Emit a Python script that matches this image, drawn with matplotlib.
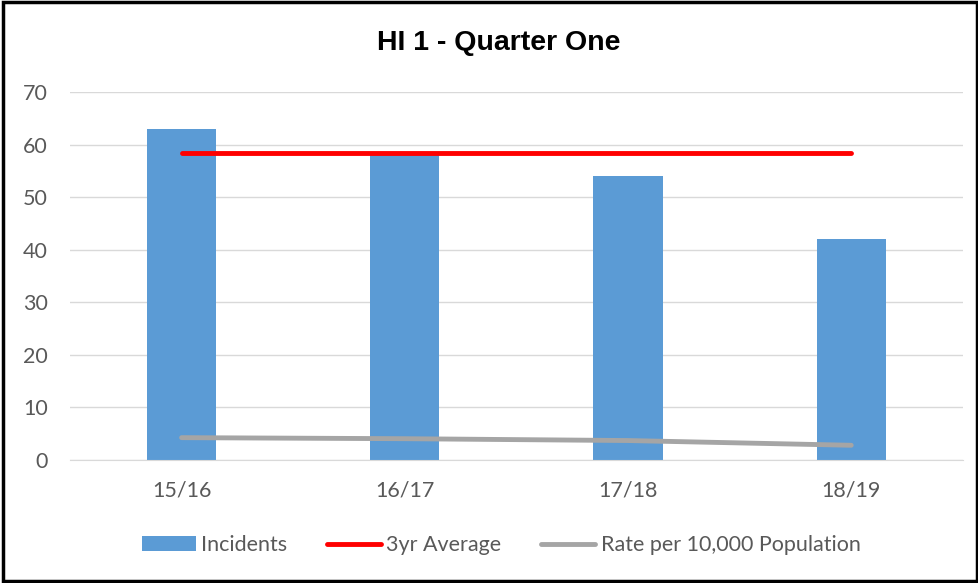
import matplotlib.pyplot as plt
from matplotlib.patches import Rectangle

categories = ['15/16', '16/17', '17/18', '18/19']
incidents = [63, 58, 54, 42]
avg_3yr = [58.5, 58.5, 58.5, 58.5]
rate_per_10k = [4.25, 4.05, 3.7, 2.8]

plt.rcParams['font.family'] = ['Lato', 'DejaVu Sans']

fig = plt.figure(figsize=(9.79, 5.83), dpi=100)
ax = fig.add_axes([0.0715, 0.211, 0.912, 0.631])

x = list(range(len(categories)))
bars = ax.bar(x, incidents, width=0.31, color='#5B9BD5', label='Incidents', zorder=2)
avg_line, = ax.plot(x, avg_3yr, color='#FF0000', linewidth=3.5, solid_capstyle='round',
                    label='3yr Average', zorder=3)
rate_line, = ax.plot(x, rate_per_10k, color='#A5A5A5', linewidth=3.5, solid_capstyle='round',
                     label='Rate per 10,000 Population', zorder=3)

ax.set_xlim(-0.5, 3.5)
ax.set_ylim(0, 70)
ax.set_yticks(range(0, 71, 10))
ax.set_xticks(x)
ax.set_xticklabels(categories)
ax.yaxis.grid(True, color='#D9D9D9', linewidth=1, zorder=0)
for s in ax.spines.values():
    s.set_visible(False)
ax.spines['bottom'].set_visible(True)
ax.spines['bottom'].set_color('#D9D9D9')
ax.tick_params(axis='both', length=0, labelsize=15.5, labelcolor='#595959')
ax.tick_params(axis='y', pad=16)
ax.tick_params(axis='x', pad=15)

fig.text(0.509, 0.926, 'HI 1 - Quarter One', ha='center', va='center',
         fontsize=20.5, fontweight='bold', family='Liberation Sans')

leg = fig.legend([bars, avg_line, rate_line],
                 ['Incidents', '3yr Average', 'Rate per 10,000 Population'],
                 loc='center', bbox_to_anchor=(0.512, 0.065), ncol=3, frameon=False,
                 fontsize=15.5, handlelength=2.5, columnspacing=1.85, handletextpad=0.25)
for t in leg.get_texts():
    t.set_color('#595959')

fig.patches.append(Rectangle((0.003, 0.004), 0.995, 0.993, transform=fig.transFigure,
                             fill=False, edgecolor='black', linewidth=2.5))

fig.savefig('out.png', dpi=100)
